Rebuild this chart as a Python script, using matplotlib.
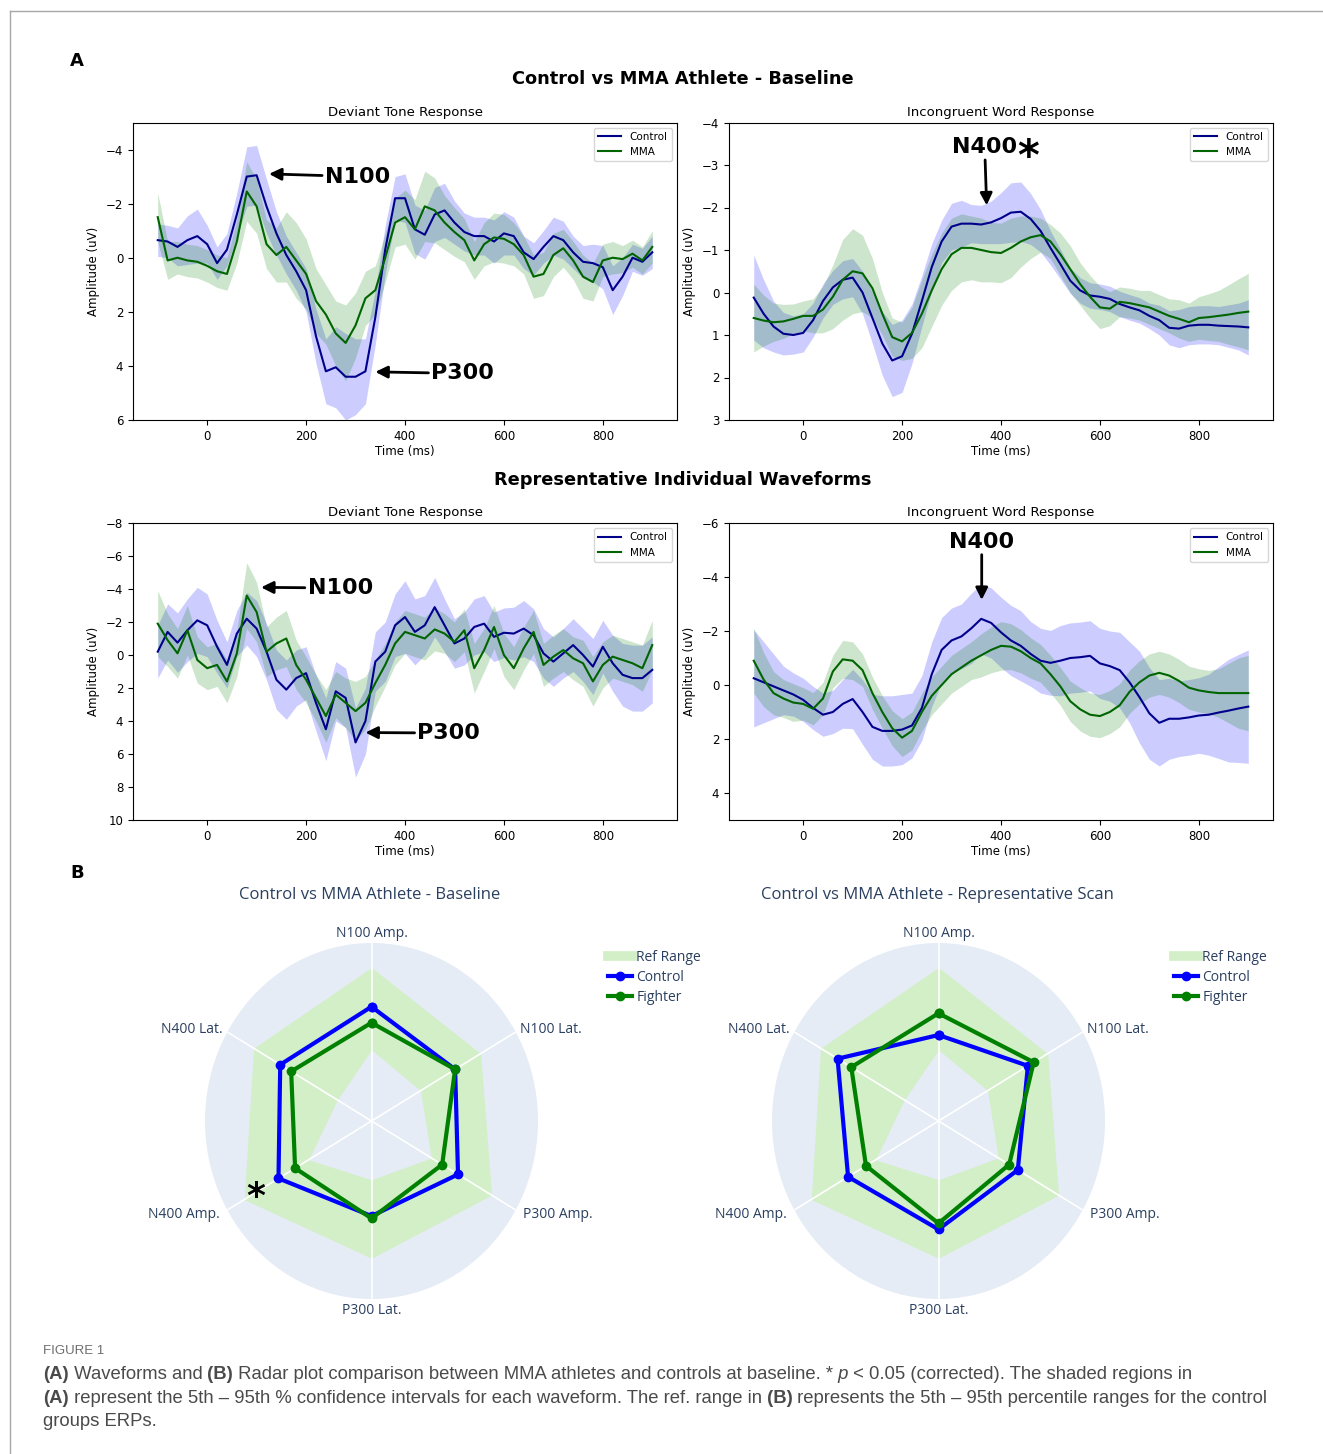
import numpy as np
import matplotlib
matplotlib.use('Agg')
import matplotlib.pyplot as plt
from matplotlib import font_manager
from matplotlib.lines import Line2D

W, H = 1323, 1454

# time axis shared by every waveform (ms)
time_ms = np.arange(-100, 901, 20)

# baseline group averages - deviant tone (uV)
tone_ctrl = [-0.65, -0.6, -0.4, -0.65, -0.8, -0.5, 0.2, -0.3, -1.6, -3.0,
             -3.05, -1.9, -0.9, -0.1, 0.5, 1.2, 2.9, 4.2, 4.05, 4.4,
             4.4, 4.2, 2.2, -0.3, -2.2, -2.2, -1.05, -0.85, -1.6, -1.75,
             -1.3, -0.95, -0.8, -0.8, -0.6, -0.9, -0.8, -0.2, 0.05, -0.4,
             -0.8, -0.65, -0.2, 0.15, 0.2, 0.35, 1.2, 0.7, 0.0, 0.15,
             -0.2]
tone_ctrl_ci = [0.6, 0.6, 0.7, 0.9, 1.0, 0.7, 0.6, 0.6, 0.8, 1.1,
                1.1, 1.0, 0.8, 0.7, 0.7, 0.8, 1.0, 1.2, 1.5, 1.6,
                1.4, 1.2, 1.0, 0.9, 0.8, 0.9, 0.9, 0.9, 1.0, 1.0,
                0.8, 0.7, 0.7, 0.7, 0.8, 0.8, 0.7, 0.6, 0.6, 0.6,
                0.7, 0.7, 0.6, 0.6, 0.7, 0.8, 0.9, 0.7, 0.5, 0.5,
                0.6]
tone_mma = [-1.5, 0.1, 0.0, 0.1, 0.15, 0.3, 0.5, 0.6, -0.6, -2.45,
            -1.9, -0.5, -0.1, -0.4, 0.1, 0.6, 1.6, 2.1, 2.8, 3.15,
            2.5, 1.5, 1.2, 0.0, -1.3, -1.5, -1.05, -1.9, -1.75, -1.3,
            -0.95, -0.65, 0.1, -0.5, -0.75, -0.7, -0.5, -0.1, 0.7, 0.6,
            -0.1, -0.35, 0.1, 0.7, 0.9, 0.1, 0.0, 0.05, -0.15, 0.1,
            -0.4]
tone_mma_ci = [0.9, 0.7, 0.6, 0.6, 0.6, 0.6, 0.6, 0.6, 0.8, 1.1,
               1.0, 0.9, 1.0, 1.3, 1.4, 1.3, 1.2, 1.1, 1.2, 1.4,
               1.2, 1.0, 0.9, 0.9, 0.9, 1.0, 1.1, 1.3, 1.2, 1.0,
               0.9, 0.8, 0.7, 0.8, 0.9, 0.9, 0.8, 0.7, 0.8, 0.8,
               0.8, 0.7, 0.7, 0.8, 0.7, 0.6, 0.6, 0.5, 0.5, 0.5,
               0.6]

# baseline group averages - incongruent word
word_ctrl = [0.12, 0.5, 0.8, 0.97, 1.0, 0.95, 0.65, 0.2, -0.12, -0.3,
             -0.35, 0.0, 0.6, 1.2, 1.6, 1.5, 0.97, 0.2, -0.6, -1.2,
             -1.55, -1.62, -1.62, -1.6, -1.65, -1.75, -1.88, -1.9, -1.73, -1.45,
             -1.05, -0.67, -0.28, -0.05, 0.07, 0.1, 0.15, 0.27, 0.35, 0.42,
             0.55, 0.65, 0.83, 0.85, 0.78, 0.76, 0.76, 0.78, 0.79, 0.8,
             0.82]
word_ctrl_ci = [1.0, 0.8, 0.6, 0.5, 0.45, 0.45, 0.4, 0.4, 0.4, 0.45,
                0.45, 0.5, 0.6, 0.75, 0.85, 0.85, 0.7, 0.6, 0.55, 0.5,
                0.55, 0.55, 0.45, 0.45, 0.5, 0.6, 0.7, 0.7, 0.6, 0.5,
                0.4, 0.35, 0.3, 0.3, 0.3, 0.3, 0.3, 0.3, 0.3, 0.3,
                0.3, 0.35, 0.4, 0.45, 0.45, 0.45, 0.45, 0.45, 0.5, 0.55,
                0.65]
word_mma = [0.6, 0.66, 0.7, 0.68, 0.62, 0.55, 0.55, 0.4, 0.1, -0.3,
            -0.5, -0.45, -0.1, 0.5, 1.05, 1.15, 0.95, 0.5, -0.05, -0.55,
            -0.9, -1.05, -1.05, -1.0, -0.95, -0.93, -1.05, -1.2, -1.3, -1.35,
            -1.2, -0.9, -0.55, -0.2, 0.1, 0.35, 0.38, 0.22, 0.25, 0.3,
            0.35, 0.45, 0.55, 0.62, 0.7, 0.6, 0.58, 0.55, 0.52, 0.48,
            0.45]
word_mma_ci = [0.8, 0.6, 0.45, 0.4, 0.35, 0.35, 0.4, 0.55, 0.75, 0.95,
               1.0, 0.9, 0.7, 0.5, 0.45, 0.45, 0.6, 0.8, 0.85, 0.85,
               0.85, 0.8, 0.75, 0.75, 0.7, 0.7, 0.7, 0.6, 0.5, 0.4,
               0.4, 0.5, 0.55, 0.5, 0.5, 0.5, 0.4, 0.35, 0.35, 0.35,
               0.4, 0.4, 0.4, 0.45, 0.45, 0.5, 0.55, 0.6, 0.7, 0.8,
               0.9]

# representative individuals - deviant tone
ind_tone_ctrl = [-0.2, -1.4, -0.75, -1.5, -2.1, -1.8, -0.5, 0.6, -1.3, -2.2,
                 -1.6, -0.2, 1.5, 2.1, 1.4, 1.1, 2.9, 4.5, 2.2, 2.6,
                 5.3, 4.0, 0.4, -0.2, -1.8, -2.3, -1.4, -1.8, -2.9, -1.8,
                 -0.7, -1.0, -1.7, -1.9, -1.1, -1.35, -1.3, -1.6, -1.2, -0.1,
                 0.4, -0.1, -0.6, 0.0, 0.7, -0.5, 0.5, 1.2, 1.4, 1.4,
                 0.9]
ind_tone_ctrl_ci = [1.6, 1.7, 1.8, 1.9, 2.0, 1.9, 1.6, 1.4, 1.4, 1.6,
                    1.7, 1.7, 1.8, 1.8, 1.7, 1.6, 1.7, 1.9, 1.8, 1.8,
                    2.1, 2.0, 1.8, 1.8, 1.9, 2.2, 2.0, 1.8, 1.8, 1.6,
                    1.5, 1.6, 1.7, 1.7, 1.5, 1.5, 1.6, 1.7, 1.6, 1.5,
                    1.5, 1.5, 1.6, 1.6, 1.7, 1.6, 1.7, 1.9, 2.0, 2.0,
                    2.0]
ind_tone_mma = [-1.9, -0.9, -0.1, -1.5, 0.3, 0.8, 0.6, 1.6, -0.1, -3.6,
                -2.6, -0.2, -0.7, -1.0, 0.6, 1.5, 2.6, 3.7, 2.4, 2.9,
                3.4, 2.9, 1.7, 0.6, -0.7, -1.4, -1.2, -1.0, -1.55, -1.3,
                -0.8, -1.5, 0.8, -0.3, -1.7, 0.0, 0.8, -0.4, -1.4, 0.6,
                0.1, -0.3, 0.2, 0.5, 1.6, 0.6, 0.1, 0.3, 0.5, 0.8,
                -0.6]
ind_tone_mma_ci = [2.0, 1.6, 1.5, 1.5, 1.4, 1.3, 1.3, 1.3, 1.4, 2.0,
                   1.8, 1.5, 1.6, 1.7, 1.5, 1.4, 1.4, 1.6, 1.4, 1.5,
                   1.8, 1.6, 1.4, 1.3, 1.3, 1.3, 1.3, 1.3, 1.3, 1.2,
                   1.2, 1.3, 1.5, 1.3, 1.3, 1.3, 1.3, 1.3, 1.3, 1.3,
                   1.3, 1.3, 1.3, 1.4, 1.5, 1.4, 1.3, 1.3, 1.3, 1.4,
                   1.5]

# representative individuals - incongruent word
ind_word_ctrl = [-0.25, -0.1, 0.05, 0.2, 0.35, 0.55, 0.85, 1.1, 1.0, 0.7,
                 0.52, 1.0, 1.55, 1.7, 1.7, 1.65, 1.5, 0.85, -0.4, -1.3,
                 -1.65, -1.8, -2.1, -2.45, -2.3, -1.95, -1.65, -1.45, -1.15, -0.9,
                 -0.82, -0.9, -1.0, -1.03, -1.08, -0.8, -0.7, -0.55, -0.1, 0.45,
                 1.05, 1.4, 1.25, 1.25, 1.2, 1.13, 1.1, 1.02, 0.95, 0.87,
                 0.8]
ind_word_ctrl_ci = [1.8, 1.5, 1.2, 0.9, 0.8, 0.8, 0.8, 0.8, 0.8, 0.9,
                    1.1, 1.2, 1.2, 1.3, 1.3, 1.3, 1.2, 1.2, 1.2, 1.2,
                    1.2, 1.2, 1.3, 1.3, 1.3, 1.3, 1.3, 1.3, 1.2, 1.2,
                    1.2, 1.3, 1.3, 1.3, 1.3, 1.3, 1.3, 1.4, 1.5, 1.7,
                    1.7, 1.6, 1.5, 1.4, 1.4, 1.4, 1.5, 1.7, 1.9, 2.0,
                    2.1]
ind_word_mma = [-0.9, -0.2, 0.3, 0.5, 0.65, 0.7, 0.88, 0.5, -0.5, -0.95,
                -0.9, -0.55, 0.3, 1.0, 1.6, 1.95, 1.7, 1.0, 0.4, 0.0,
                -0.4, -0.65, -0.9, -1.1, -1.3, -1.45, -1.42, -1.25, -1.0, -0.8,
                -0.4, 0.05, 0.6, 0.9, 1.1, 1.15, 1.0, 0.75, 0.25, -0.1,
                -0.35, -0.45, -0.35, -0.15, 0.1, 0.2, 0.26, 0.3, 0.3, 0.3,
                0.3]
ind_word_mma_ci = [1.2, 1.0, 0.8, 0.7, 0.7, 0.6, 0.6, 0.6, 0.6, 0.7,
                   0.7, 0.6, 0.6, 0.6, 0.65, 0.7, 0.7, 0.7, 0.7, 0.7,
                   0.7, 0.7, 0.7, 0.8, 0.85, 0.9, 0.85, 0.8, 0.75, 0.7,
                   0.7, 0.7, 0.75, 0.8, 0.8, 0.8, 0.8, 0.8, 0.8, 0.8,
                   0.8, 0.8, 0.8, 0.8, 0.8, 0.8, 0.8, 0.9, 1.1, 1.3,
                   1.4]

# radar plots (normalised scores)
radar_labels = ['N100 Amp.', 'N100 Lat.', 'P300 Amp.', 'P300 Lat.', 'N400 Amp.', 'N400 Lat.']
ref_lo = [0.40, 0.34, 0.414, 0.33, 0.436, 0.237]
ref_hi = [0.863, 0.757, 0.833, 0.771, 0.883, 0.818]
base_ctrl = [0.642, 0.58, 0.60, 0.534, 0.645, 0.633]
base_fighter = [0.552, 0.58, 0.49, 0.547, 0.53, 0.557]
scan_ctrl = [0.483, 0.62, 0.55, 0.609, 0.627, 0.70]
scan_fighter = [0.605, 0.66, 0.49, 0.575, 0.503, 0.605]


def frac(x0, ytop, x1, ybot):
    return [x0 / W, 1 - ybot / H, (x1 - x0) / W, (ybot - ytop) / H]


def draw_wave(ax, ctrl, ctrl_ci, mma, mma_ci, title, ylim, yticks):
    ctrl, ctrl_ci = np.array(ctrl), np.array(ctrl_ci)
    mma, mma_ci = np.array(mma), np.array(mma_ci)
    ax.plot(time_ms, ctrl, color='darkblue', lw=1.5, label='Control')
    ax.fill_between(time_ms, ctrl - ctrl_ci, ctrl + ctrl_ci, color='blue', alpha=0.2, lw=0)
    ax.plot(time_ms, mma, color='darkgreen', lw=1.5, label='MMA')
    ax.fill_between(time_ms, mma - mma_ci, mma + mma_ci, color='green', alpha=0.2, lw=0)
    ax.set_xlim(-150, 950)
    ax.set_ylim(*ylim)
    ax.set_yticks(yticks)
    ax.set_xticks([0, 200, 400, 600, 800])
    ax.tick_params(labelsize=8.5)
    ax.set_title(title, fontsize=9.5, pad=5)
    ax.set_xlabel('Time (ms)', fontsize=8.5, labelpad=2)
    ax.set_ylabel('Amplitude (uV)', fontsize=8.5)
    ax.legend(loc='upper right', fontsize=7.5, handlelength=2.2)


def arrow_label(ax, text, tip, pos, ha='left'):
    return ax.annotate(text, xy=tip, xytext=pos, fontsize=16, fontweight='bold',
                       ha=ha, va='center',
                       arrowprops=dict(arrowstyle='-|>', color='black', lw=2,
                                       mutation_scale=18, shrinkA=0, shrinkB=0))


def draw_radar(rect, ctrl, fighter, title, title_x, legend_x):
    ax = fig.add_axes(rect, projection='polar')
    ax.set_aspect('auto')
    theta = np.arange(len(radar_labels)) * 2 * np.pi / len(radar_labels)
    th = np.append(theta, theta[0])
    ax.set_theta_zero_location('N')
    ax.set_theta_direction(-1)
    ax.set_facecolor('#E5ECF6')
    ax.spines['polar'].set_visible(False)
    ax.set_ylim(0, 1)
    ax.set_yticks([])
    ax.set_xticks(theta)
    ax.set_xticklabels([])
    ax.xaxis.grid(True, color='white', lw=1.2)
    ax.tick_params(length=0)
    lo = np.append(ref_lo, ref_lo[0])
    hi = np.append(ref_hi, ref_hi[0])
    ax.fill_between(th, lo, hi, color='#d3efc7', lw=0)
    ax.plot(th, np.append(ctrl, ctrl[0]), color='blue', lw=3, marker='o', ms=6, zorder=3)
    ax.plot(th, np.append(fighter, fighter[0]), color='green', lw=3, marker='o', ms=6, zorder=4)
    lab_kw = dict(fontsize=10, color='#2a3f5f', family='Open Sans')
    # label anchor: (radius, ha, va)
    spots = [(1.01, 'center', 'bottom'), (1.03, 'left', 'center'), (1.05, 'left', 'center'),
             (1.02, 'center', 'top'), (1.05, 'right', 'center'), (1.03, 'right', 'center')]
    for t, lab, (r, ha, va) in zip(theta, radar_labels, spots):
        ax.text(t, r, lab, ha=ha, va=va, **lab_kw)
    fig.text(title_x / W, 1 - 895 / H, title, ha='center', va='center',
             fontsize=12, color='#2a3f5f', family='Open Sans')
    handles = [Line2D([], [], color='#d3efc7', lw=7),
               Line2D([], [], color='blue', lw=3, marker='o', ms=6),
               Line2D([], [], color='green', lw=3, marker='o', ms=6)]
    leg = fig.legend(handles, ['Ref Range', 'Control', 'Fighter'], loc='upper left',
                     bbox_to_anchor=(legend_x / W, 1 - 950 / H), frameon=False,
                     handlelength=1.7, handletextpad=0.35,
                     labelspacing=0.35, borderpad=0, borderaxespad=0,
                     prop={'family': 'Open Sans', 'size': 10})
    for txt in leg.get_texts():
        txt.set_color('#2a3f5f')
    return ax


fig = plt.figure(figsize=(W / 100, H / 100), dpi=100)

# thin frame around the figure
frame = fig.add_axes([0, 0, 1, 1])
frame.set_xlim(0, W)
frame.set_ylim(H, 0)
frame.axis('off')
frame.plot([10, W], [11, 11], color='#a8a8a8', lw=1)
frame.plot([10, 10], [11, H], color='#a8a8a8', lw=1)

ax1 = fig.add_axes(frac(133, 122.5, 677, 420))
draw_wave(ax1, tone_ctrl, tone_ctrl_ci, tone_mma, tone_mma_ci,
          'Deviant Tone Response', (6, -5), [-4, -2, 0, 2, 4, 6])
arrow_label(ax1, 'N100', (125, -3.1), (238, -3.0))
arrow_label(ax1, 'P300', (340, 4.22), (453, 4.28))

ax2 = fig.add_axes(frac(729, 122.5, 1273, 420))
draw_wave(ax2, word_ctrl, word_ctrl_ci, word_mma, word_mma_ci,
          'Incongruent Word Response', (3, -4), [-4, -3, -2, -1, 0, 1, 2, 3])
n400 = arrow_label(ax2, 'N400', (371, -2.05), (367, -3.42), ha='center')
ax2.annotate('*', xy=(1, 1), xycoords=n400, ha='left', va='top',
             fontsize=30, fontweight='bold')

ax3 = fig.add_axes(frac(133, 523, 677, 820))
draw_wave(ax3, ind_tone_ctrl, ind_tone_ctrl_ci, ind_tone_mma, ind_tone_mma_ci,
          'Deviant Tone Response', (10, -8), [-8, -6, -4, -2, 0, 2, 4, 6, 8, 10])
arrow_label(ax3, 'N100', (109, -4.1), (203, -4.06))
arrow_label(ax3, 'P300', (320, 4.7), (425, 4.73))

ax4 = fig.add_axes(frac(729, 523, 1273, 820))
draw_wave(ax4, ind_word_ctrl, ind_word_ctrl_ci, ind_word_mma, ind_word_mma_ci,
          'Incongruent Word Response', (5, -6), [-6, -4, -2, 0, 2, 4])
arrow_label(ax4, 'N400', (361, -3.15), (361, -5.3), ha='center')

fig.text(683 / W, 1 - 79 / H, 'Control vs MMA Athlete - Baseline',
         ha='center', va='center', fontsize=12.8, fontweight='bold')
fig.text(683 / W, 1 - 480 / H, 'Representative Individual Waveforms',
         ha='center', va='center', fontsize=12.8, fontweight='bold')
fig.text(77 / W, 1 - 61 / H, 'A', ha='center', va='center', fontsize=13, fontweight='bold')
fig.text(77 / W, 1 - 873 / H, 'B', ha='center', va='center', fontsize=13, fontweight='bold')

draw_radar(frac(205, 943, 538, 1299), base_ctrl, base_fighter,
           'Control vs MMA Athlete - Baseline', 370, 608)
draw_radar(frac(772, 943, 1105, 1299), scan_ctrl, scan_fighter,
           'Control vs MMA Athlete - Representative Scan', 937, 1174)
fig.text(256 / W, 1 - 1207 / H, '*', ha='center', va='baseline', fontsize=26, fontweight='bold')

# caption
names = {f.name for f in font_manager.fontManager.ttflist}
if 'Liberation Sans Narrow' in names:
    cap_family, cap_size = 'Liberation Sans Narrow', 13.2
else:
    cap_family, cap_size = 'Liberation Sans', 13.3
cap_color = '#4a4a4a'
frame.text(43, 1351, 'FIGURE 1', ha='left', va='center', fontsize=9.5,
           color='#6e6e6e', family=cap_family)

caption_lines = [
    [('(A)', 'bold', 'normal'), (' Waveforms and', 'normal', 'normal'), (' (B)', 'bold', 'normal'),
     (' Radar plot comparison between MMA athletes and controls at baseline. *', 'normal', 'normal'),
     (' p', 'normal', 'italic'), (' < 0.05 (corrected). The shaded regions in', 'normal', 'normal')],
    [('(A)', 'bold', 'normal'),
     (' represent the 5th \u2013 95th % confidence intervals for each waveform. The ref. range in', 'normal', 'normal'),
     (' (B)', 'bold', 'normal'),
     (' represents the 5th \u2013 95th percentile ranges for the control', 'normal', 'normal')],
    [('groups ERPs.', 'normal', 'normal')],
]
for row, y in zip(caption_lines, [1374, 1398, 1421]):
    prev = None
    for s, weight, style in row:
        kw = dict(fontsize=cap_size, color=cap_color, family=cap_family,
                  fontweight=weight, fontstyle=style, ha='left', va='bottom')
        if prev is None:
            prev = frame.text(43, y + 9, s, **kw)
        else:
            prev = frame.annotate(s, xy=(1, 0), xycoords=prev, **kw)

fig.savefig('out.png', dpi=100)
